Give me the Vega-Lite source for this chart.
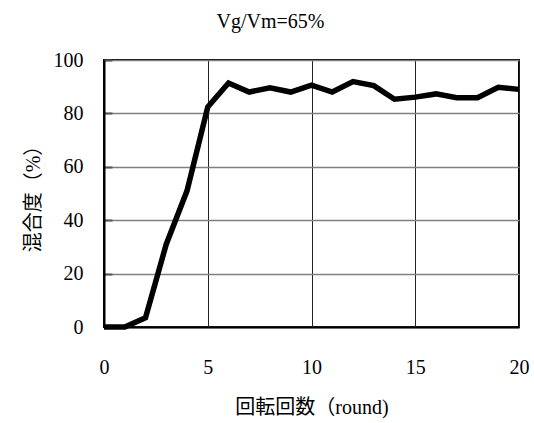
{
  "$schema": "https://vega.github.io/schema/vega-lite/v6.json",
  "width": 415,
  "height": 267,
  "autosize": "none",
  "padding": {"left": 104, "top": 60, "right": 15, "bottom": 96},
  "background": "white",
  "title": {
    "text": "Vg/Vm=65%",
    "font": "Liberation Serif",
    "fontSize": 20,
    "fontWeight": "normal",
    "color": "black",
    "anchor": "middle",
    "dx": -41,
    "offset": 18
  },
  "config": {
    "font": "Liberation Serif",
    "view": {"stroke": "black", "strokeWidth": 2},
    "axis": {
      "labelFontSize": 20,
      "labelColor": "black",
      "titleFontSize": 20,
      "titleFontWeight": "normal",
      "titleColor": "black",
      "domainColor": "black",
      "domainWidth": 2,
      "tickColor": "#555555",
      "tickWidth": 2
    }
  },
  "data": {
    "values": [
      {"round": 0, "mix": 0},
      {"round": 1, "mix": 0},
      {"round": 2, "mix": 3.5},
      {"round": 3, "mix": 31},
      {"round": 4, "mix": 51},
      {"round": 5, "mix": 82.4},
      {"round": 6, "mix": 91.4},
      {"round": 7, "mix": 88},
      {"round": 8, "mix": 89.6},
      {"round": 9, "mix": 88},
      {"round": 10, "mix": 90.6},
      {"round": 11, "mix": 88},
      {"round": 12, "mix": 91.9},
      {"round": 13, "mix": 90.4},
      {"round": 14, "mix": 85.3},
      {"round": 15, "mix": 86.1},
      {"round": 16, "mix": 87.3},
      {"round": 17, "mix": 85.9},
      {"round": 18, "mix": 85.9},
      {"round": 19, "mix": 89.8},
      {"round": 20, "mix": 89}
    ]
  },
  "mark": {"type": "line", "color": "black", "strokeWidth": 5.5, "strokeJoin": "miter", "clip": false},
  "encoding": {
    "x": {
      "field": "round",
      "type": "quantitative",
      "scale": {"domain": [0, 20], "nice": false, "zero": false},
      "axis": {
        "title": "回転回数（round)",
        "labelFont": "Liberation Serif",
        "titleFont": "Liberation Serif, Noto Sans CJK JP",
        "values": [0, 5, 10, 15, 20],
        "ticks": false,
        "labelPadding": 30,
        "titlePadding": 20,
        "grid": true,
        "gridColor": "#222222",
        "gridWidth": 1,
        "labelFlush": false
      }
    },
    "y": {
      "field": "mix",
      "type": "quantitative",
      "scale": {"domain": [0, 100], "nice": false},
      "axis": {
        "title": "混合度（%）",
        "labelFont": "Liberation Serif",
        "titleFont": "Liberation Serif, Noto Sans CJK JP",
        "values": [0, 20, 40, 60, 80, 100],
        "tickSize": -8,
        "labelPadding": 29,
        "titlePadding": 10,
        "grid": true,
        "gridColor": "#808080",
        "gridWidth": 1.5
      }
    }
  }
}
